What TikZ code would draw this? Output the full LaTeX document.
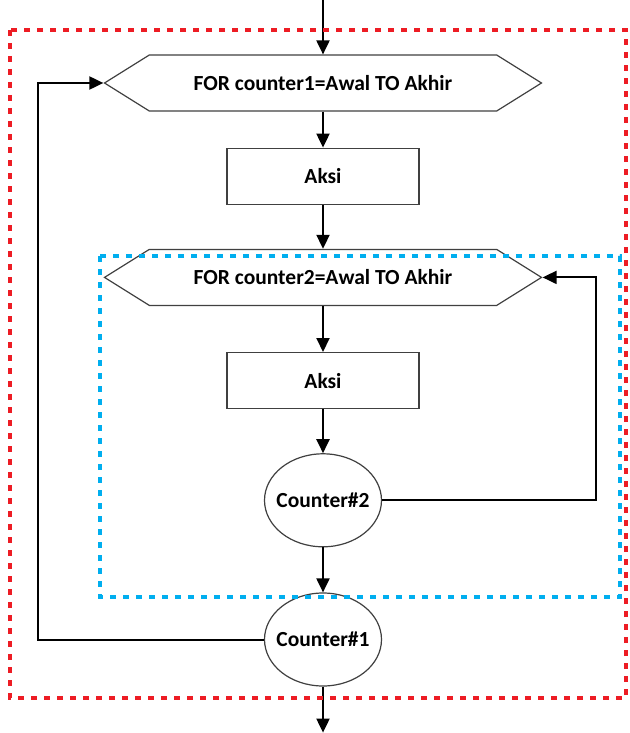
\documentclass[tikz,border=0pt]{standalone}
\usepackage{fontspec}
\setmainfont{Carlito}
\usetikzlibrary{shapes,arrows.meta}
\usetikzlibrary{positioning}
\definecolor{framered}{HTML}{ED1C24}
\definecolor{frameblue}{HTML}{00AEEF}

\begin{document}
\begin{tikzpicture}[x=1pt,y=1pt,box/.style={draw=black!75,line width=1.2pt,fill=white,align=center,minimum height=56pt,minimum width=192pt},
		loophead/.style={signal,signal to=west and east,signal pointer angle=64,draw=black!75,line width=1.2pt,fill=white,minimum height=56pt,minimum width=437pt,inner sep=0pt},
		counter/.style={ellipse,draw=black!75,line width=1.2pt,fill=white,minimum width=117pt,minimum height=93pt,inner xsep=-6pt,inner ysep=0pt},
		frame/.style={line width=4pt,dash pattern=on 6pt off 7pt},
		font=\fontsize{21.5}{25}\selectfont\bfseries,line width=2pt,>={Triangle[length=14pt,width=13pt]}]
		
		\useasboundingbox (0,0) rectangle (629,-733);
		
		\node[loophead] (f1) at (323,-83) {FOR counter1=Awal TO Akhir};
		\node[box,below=36pt of f1] (a1) {Aksi};
		\node[loophead,below=44pt of a1] (f2) {FOR counter2=Awal TO Akhir};
		\node[box,below=46pt of f2] (a2) {Aksi};
		\node[counter,below=44pt of a2] (c2) {Counter\#2};
		\node[counter,below=45pt of c2] (c1) {Counter\#1};
		\coordinate[above=56pt of f1.north] (in);
		\coordinate[below=46pt of c1.south] (out);
		
		\draw[->] (in) -- (f1.north);
		\draw[->] (f1.south) -- (a1);
		\draw[->] (a1) -- (f2.north);
		\draw[->] (f2.south) -- (a2);
		\draw[->] (a2) -- (c2);
		\draw[->] (c2) -- (c1);
		\draw[->] (c1) -- (out);
		
		\draw[->] (c2.east) -- ++(214,0) |- (f2.east);
		\draw[->] (c1.west) -- ++(-226,0) |- (f1.west);
		
		\draw[frame,framered] (10,-30) rectangle (626,-698);
		\draw[frame,frameblue] (100,-256) rectangle (620,-597);
		
		\end{tikzpicture}
\end{document}
